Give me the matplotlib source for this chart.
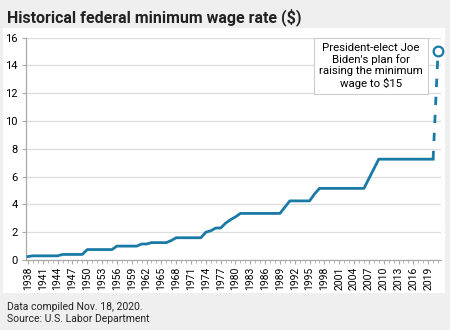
import numpy as np
import matplotlib.pyplot as plt
from matplotlib.patches import Rectangle
from matplotlib.ticker import MultipleLocator

# Federal minimum wage by year, $ per hour
years = list(range(1938, 2021))
wage_changes = {1938: 0.25, 1939: 0.30, 1945: 0.40, 1950: 0.75, 1956: 1.00,
                1961: 1.15, 1963: 1.25, 1967: 1.40, 1968: 1.60, 1974: 2.00,
                1975: 2.10, 1976: 2.30, 1978: 2.65, 1979: 2.90, 1980: 3.10,
                1981: 3.35, 1990: 3.80, 1991: 4.25, 1996: 4.75, 1997: 5.15,
                2007: 5.85, 2008: 6.55, 2009: 7.25}
wages = []
current = 0.25
for y in years:
    current = wage_changes.get(y, current)
    wages.append(current)

# Proposed raise
plan_years = [2020, 2021]
plan_wages = [7.25, 15]

tick_years = list(range(1938, 2020, 3))
blue = '#1a7aa6'

plt.rcParams['font.family'] = ['Roboto', 'DejaVu Sans']

fig = plt.figure(figsize=(4.5, 3.3), dpi=100, facecolor='#efefef')
fig.patches.append(Rectangle((3 / 450, 1 - 293 / 330), 442 / 450, 265 / 330,
                             transform=fig.transFigure, facecolor='white',
                             edgecolor='none', zorder=-5))

ax = fig.add_axes([26 / 450, 1 - 260 / 330, 415 / 450, 222.5 / 330])
ax.set_zorder(2)
ax.set_facecolor('white')
ax.plot(years, wages, color=blue, linewidth=2.0, solid_joinstyle='round', zorder=3)
ax.plot(plan_years, plan_wages, color=blue, linewidth=2.0, linestyle=(0, (3, 3.5)), zorder=3)
ax.plot(plan_years[-1], plan_wages[-1], marker='o', markersize=7, clip_on=False,
        markerfacecolor='white', markeredgecolor=blue, markeredgewidth=1.6, zorder=4)

ax.set_xlim(1937.6, 2021.6)
ax.set_ylim(0, 16)
ax.set_yticks(range(0, 17, 2))
ax.set_xticks(tick_years)
ax.set_xticklabels([str(y) for y in tick_years], rotation=90, fontsize=7.5)
ax.xaxis.set_minor_locator(MultipleLocator(1))
ax.tick_params(axis='y', labelsize=8, length=3, color='#aaaaaa', pad=3)
ax.tick_params(axis='x', which='major', length=3, color='#aaaaaa', pad=2)
ax.tick_params(axis='x', which='minor', length=2, color='#aaaaaa')
ax.grid(axis='y', color='#dddddd', linewidth=0.9)
ax.set_axisbelow(True)
for side in ['top', 'right']:
    ax.spines[side].set_visible(False)
for side in ['left', 'bottom']:
    ax.spines[side].set_color('#aaaaaa')
    ax.spines[side].set_linewidth(0.9)

ax.text(2007.4, 13.95, "President-elect Joe\nBiden's plan for\nraising the minimum\nwage to $15",
        ha='center', va='center', fontsize=8.2, linespacing=1.15, zorder=5,
        bbox=dict(boxstyle='square,pad=0.45', facecolor='white', edgecolor='#cccccc', linewidth=0.8))

fig.text(7 / 450, 1 - 17 / 330, 'Historical federal minimum wage rate ($)',
         fontsize=11.5, fontweight='bold', color='#222222', va='center', ha='left')
fig.text(7 / 450, 1 - 307 / 330, 'Data compiled Nov. 18, 2020.', fontsize=7.5, va='center', color='#222222')
fig.text(7 / 450, 1 - 319 / 330, 'Source: U.S. Labor Department', fontsize=7.5, va='center', color='#222222')

fig.savefig('out.png', dpi=100, facecolor=fig.get_facecolor())
